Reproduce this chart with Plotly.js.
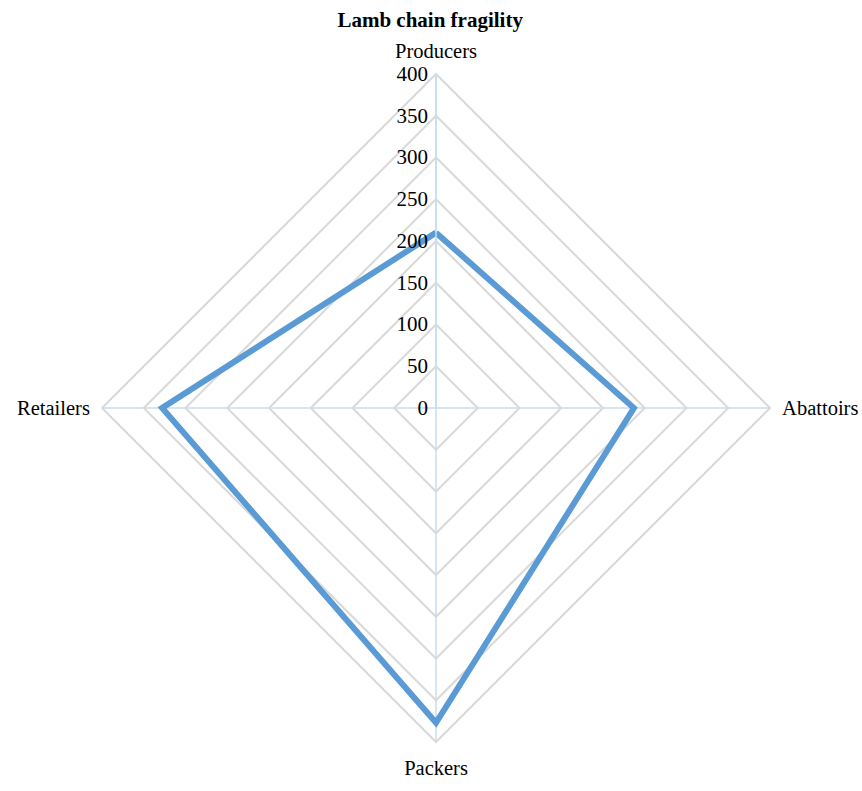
<!DOCTYPE html>
<html>
<head>
<meta charset="utf-8">
<script src="https://cdn.plot.ly/plotly-3.0.1.min.js"></script>
<style>body{margin:0;padding:0;background:#fff}#chart{width:862px;height:791px}</style>
</head>
<body>
<div id="chart"></div>
<script>
const categories = ["Producers", "Abattoirs", "Packers", "Retailers"];
const values = [210, 237, 377, 328];
const radialTicks = [0, 50, 100, 150, 200, 250, 300, 350, 400];

const trace = {
  type: 'scatterpolar',
  r: values.concat([values[0]]),
  theta: categories.concat([categories[0]]),
  mode: 'lines',
  line: {color: '#5b9bd5', width: 6},
  hoverinfo: 'skip'
};

const layout = {
  width: 862, height: 791,
  margin: {l: 102, r: 92, t: 74, b: 49},
  paper_bgcolor: '#fff',
  showlegend: false,
  font: {family: '"Liberation Serif", "Times New Roman", serif', size: 21, color: '#000'},
  title: {text: '<b>Lamb chain fragility</b>', x: 0.499, xanchor: 'center', y: 0.975, yanchor: 'middle',
          font: {family: '"Liberation Serif", "Times New Roman", serif', size: 21, color: '#000'}},
  polar: {
    domain: {x: [0, 1], y: [0, 1]},
    bgcolor: '#fff',
    gridshape: 'linear',
    radialaxis: {
      range: [0, 400], tickvals: radialTicks, ticktext: radialTicks.map(String),
      angle: 90, tickangle: 90, side: 'counterclockwise',
      showline: true, linecolor: '#c9dcee', linewidth: 1.5,
      gridcolor: '#d9d9d9', gridwidth: 2, ticks: '',
      tickfont: {size: 21}
    },
    angularaxis: {
      rotation: 90, direction: 'clockwise',
      showline: true, linecolor: '#d9d9d9', linewidth: 2,
      gridcolor: '#c9dcee', gridwidth: 1.5,
      ticks: 'outside', ticklen: 7, tickcolor: 'rgba(0,0,0,0)',
      tickfont: {size: 20.5}
    }
  }
};

Plotly.newPlot('chart', [trace], layout, {displayModeBar: false, staticPlot: true});
</script>
</body>
</html>
